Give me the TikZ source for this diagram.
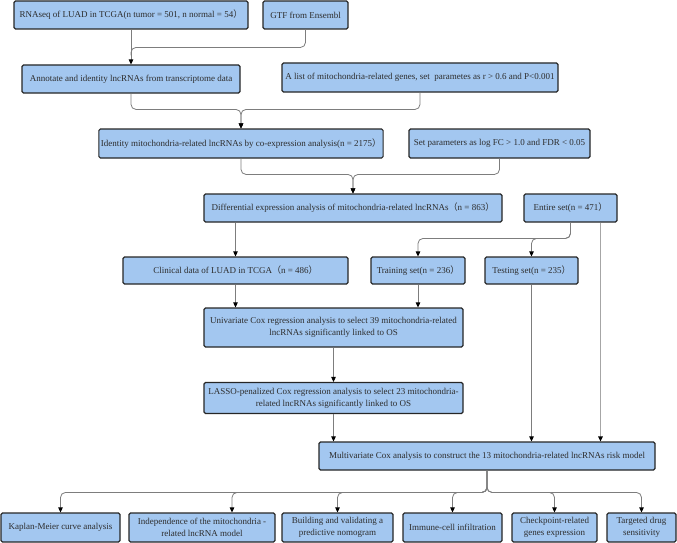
\documentclass[tikz,border=0pt]{standalone}
\usepackage{fontspec}
\setmainfont{Liberation Serif}
\newfontfamily\cjkfont{Noto Sans CJK SC}
\newcommand{\flp}{{\cjkfont （}}
\newcommand{\frp}{{\cjkfont ）}}
\usetikzlibrary{arrows.meta,calc}
\definecolor{boxblue}{RGB}{163,199,240}
\definecolor{linegray}{RGB}{125,125,125}
\definecolor{txtgray}{RGB}{45,45,45}
\tikzset{
  box/.style={draw=black!85, line width=1.1pt, fill=boxblue, rounded corners=1.5pt,
    align=center, font=\fontsize{9}{12}\selectfont, inner sep=2pt, text=txtgray},
  conn/.style={draw=linegray, line width=0.8pt},
  arr/.style={conn, -{Triangle[length=5pt,width=4.5pt,color=black]}},
  rc/.style={rounded corners=5pt},
  longline/.style={draw=gray!70, line width=1.6pt, -{Triangle[length=5pt,width=4.5pt,color=black]}}
}
\begin{document}
\begin{tikzpicture}[x=1pt,y=-1pt]
\useasboundingbox (0,0) rectangle (677,543);
% nodes
\node[box, minimum width=234pt, minimum height=28pt] (rna) at (131,15) {RNAseq of LUAD in TCGA(n tumor = 501, n normal = 54\frp};
\node[box, minimum width=85pt, minimum height=28pt] (gtf) at (305.5,15) {GTF from Ensembl};
\node[box, minimum width=218pt, minimum height=28pt] (ann) at (131,79) {Annotate and identity lncRNAs from transcriptome data};
\node[box, minimum width=276pt, minimum height=29pt] (list) at (420,77.5) {A list of mitochondria-related genes, set\ \ parametes as r > 0.6 and P<0.001};
\node[box, minimum width=284pt, minimum height=29pt] (id) at (241,143.5) {Identity mitochondria-related lncRNAs by co-expression analysis(n = 2175\frp};
\node[box, minimum width=181pt, minimum height=29pt] (setp) at (499.5,143.5) {Set parameters as log FC > 1.0 and FDR < 0.05};
\node[box, minimum width=298pt, minimum height=28pt] (diff) at (353,208) {Differential expression analysis of mitochondria-related lncRNAs\flp n = 863\frp};
\node[box, minimum width=93pt, minimum height=28pt] (ent) at (570.5,208) {Entire set(n = 471\frp};
\node[box, minimum width=225pt, minimum height=27pt] (clin) at (235.5,270.5) {Clinical data of LUAD in TCGA\flp n = 486\frp};
\node[box, minimum width=94pt, minimum height=27pt] (train) at (418,270.5) {Training set(n = 236\frp};
\node[box, minimum width=93pt, minimum height=27pt] (test) at (531.5,270.5) {Testing set(n = 235\frp};
\node[box, minimum width=259pt, minimum height=39pt] (univ) at (333.5,327.5) {Univariate Cox regression analysis to select 39 mitochondria-related\\lncRNAs significantly linked to OS};
\node[box, minimum width=259pt, minimum height=31pt] (lasso) at (333.5,398) {LASSO-penalized Cox regression analysis to select 23 mitochondria-\\related lncRNAs significantly linked to OS};
\node[box, minimum width=336pt, minimum height=28pt] (multi) at (487,456) {Multivariate Cox analysis to construct the 13 mitochondria-related lncRNAs risk model};
\node[box, minimum width=119pt, minimum height=29pt] (km) at (60.5,527.5) {Kaplan-Meier curve analysis};
\node[box, minimum width=146pt, minimum height=29pt] (ind) at (202,527.5) {Independence of the mitochondria -\\related lncRNA model};
\node[box, minimum width=111pt, minimum height=29pt] (nomo) at (337.5,527.5) {Building and validating a\\predictive nomogram};
\node[box, minimum width=99pt, minimum height=29pt] (imm) at (452.5,527.5) {Immune-cell infiltration};
\node[box, minimum width=85pt, minimum height=29pt] (chk) at (554.5,527.5) {Checkpoint-related\\genes expression};
\node[box, minimum width=69pt, minimum height=29pt] (drug) at (641.5,527.5) {Targeted drug\\sensitivity};
% junctions
\coordinate (j0) at ($(ann.north)+(0,-17)$);
\coordinate (j1) at ($(id.north)+(0,-19)$);
\coordinate (j2) at ($(diff.north)+(0,-19)$);
\coordinate (e2) at ($(ent.south)+(30,0)$);
\coordinate (indtop) at ($(ind.north)+(30,0)$);
% connectors
\draw[arr] (rna.south) -- (ann.north);
\draw[conn, rc] (gtf.south) |- (j0) -- ($(j0)+(0,8)$);
\draw[arr, rc] (ann.south) |- (j1) -- (id.north);
\draw[arr, rc] (list.south) |- (j1) -- (id.north);
\draw[arr, rc] (id.south) |- (j2) -- (diff.north);
\draw[arr, rc] (setp.south) |- (j2) -- (diff.north);
\draw[arr] (clin.north |- diff.south) -- (clin.north);
\draw[arr] (clin.south) -- (clin.south |- univ.north);
\draw[arr, rc] (ent.south) |- ($(train.north)+(0,-18)$) -- (train.north);
\draw[arr, rc] (ent.south) |- ($(test.north)+(0,-18)$) -- (test.north);
\draw[longline] (e2) -- (e2 |- multi.north);
\draw[arr] (train.south) -- (train.south |- univ.north);
\draw[arr] (univ.south) -- (lasso.north);
\draw[arr] (lasso.south) -- (lasso.south |- multi.north);
\draw[arr] (test.south) -- (test.south |- multi.north);
\draw[arr, rc] (multi.south) |- ($(km.north)+(0,-20)$) -- (km.north);
\draw[arr, rc] (multi.south) |- ($(indtop)+(0,-20)$) -- (indtop);
\draw[arr, rc] (multi.south) |- ($(nomo.north)+(0,-20)$) -- (nomo.north);
\draw[arr, rc] (multi.south) |- ($(imm.north)+(0,-20)$) -- (imm.north);
\draw[arr, rc] (multi.south) |- ($(chk.north)+(0,-20)$) -- (chk.north);
\draw[arr, rc] (multi.south) |- ($(drug.north)+(0,-20)$) -- (drug.north);
\end{tikzpicture}
\end{document}
